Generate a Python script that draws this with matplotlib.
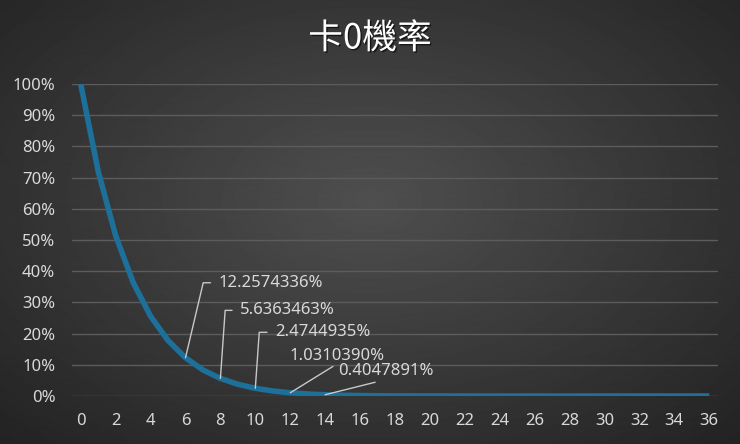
import numpy as np
import matplotlib
matplotlib.use('Agg')
import matplotlib.pyplot as plt
import matplotlib.patheffects as pe

plt.rcParams['font.family'] = ['Noto Sans', 'DejaVu Sans']

# draws (x) and chance of getting none
draws = list(range(37))
chance = [1.0, 0.72, 0.514286, 0.364286, 0.255775, 0.177930, 0.122574, 0.083574,
          0.056363, 0.037576, 0.024745, 0.016084, 0.010310, 0.006512, 0.004048,
          0.002474, 0.001484, 0.000873, 0.000503, 0.000283, 0.000155, 0.000082,
          0.000042, 0.000021, 0.00001, 0.000005, 0.000002, 0.000001, 0.0,
          0.0, 0.0, 0.0, 0.0, 0.0, 0.0, 0.0, 0.0]

# labelled points
label_x = [6, 8, 10, 12, 14]
label_text = ['12.2574336%', '5.6363463%', '2.4744935%', '1.0310390%', '0.4047891%']

fig = plt.figure(figsize=(7.4, 4.44), dpi=100)

# dark radial background
bg = fig.add_axes([0, 0, 1, 1], zorder=-10)
yy, xx = np.mgrid[0:444, 0:740]
r = np.sqrt(((xx - 370) / 520.0) ** 2 + ((yy - 200) / 330.0) ** 2)
shade = np.clip(0.31 - 0.17 * r, 0.14, 0.31)
bg.imshow(shade, cmap='gray', vmin=0, vmax=1, aspect='auto', interpolation='bilinear')
bg.axis('off')

ax = fig.add_axes([72 / 740, 48 / 444, 646 / 740, 312 / 444])
ax.set_facecolor('none')
ax.plot(draws, chance, color='#1c7099', lw=4, solid_capstyle='butt',
        solid_joinstyle='round', zorder=3)

ax.set_xlim(-0.5, 36.5)
ax.set_ylim(0, 1)
ax.set_xticks(range(0, 37, 2))
ax.set_yticks(np.arange(0, 1.01, 0.1))
ax.set_yticklabels(['%d%%' % round(v * 100) for v in np.arange(0, 1.01, 0.1)])
ax.tick_params(colors='#d9d9d9', labelsize=12, length=0)
ax.tick_params(axis='x', pad=12)
ax.tick_params(axis='y', pad=12)
ax.grid(axis='y', color='#5c5c5c', lw=1)
ax.set_axisbelow(True)
for s in ax.spines.values():
    s.set_visible(False)

# label offsets (points) and leader styles
offsets = [(24, 54), (14.4, 49), (14.4, 40.3), (34, 21), (44, 11)]
angles = [76.7, 86, 86, None, None]
for x, t, off, ang in zip(label_x, label_text, offsets, angles):
    y = chance[x]
    if ang is not None:
        ax.annotate(t, xy=(x, y), xytext=off, textcoords='offset points',
                    ha='left', va='center', color='#d9d9d9', fontsize=12,
                    arrowprops=dict(arrowstyle='-', color='#c8c8c8', lw=1,
                                    relpos=(0, 0.5), shrinkA=4, shrinkB=0,
                                    connectionstyle='angle,angleA=0,angleB=%s,rad=0' % ang))
    else:
        ax.annotate(t, xy=(x, y), xytext=off, textcoords='offset points',
                    ha='center', va='bottom', color='#d9d9d9', fontsize=12,
                    arrowprops=dict(arrowstyle='-', color='#c8c8c8', lw=1,
                                    relpos=(0.5, 0), shrinkA=0, shrinkB=0))

fig.text(0.5, 0.912, '卡0機率', ha='center', va='center', color='white', fontsize=25,
         family=['Noto Sans CJK TC', 'DejaVu Sans'],
         path_effects=[pe.withSimplePatchShadow(offset=(1, -1), shadow_rgbFace='black', alpha=0.6)])

fig.savefig('out.png', dpi=100)
